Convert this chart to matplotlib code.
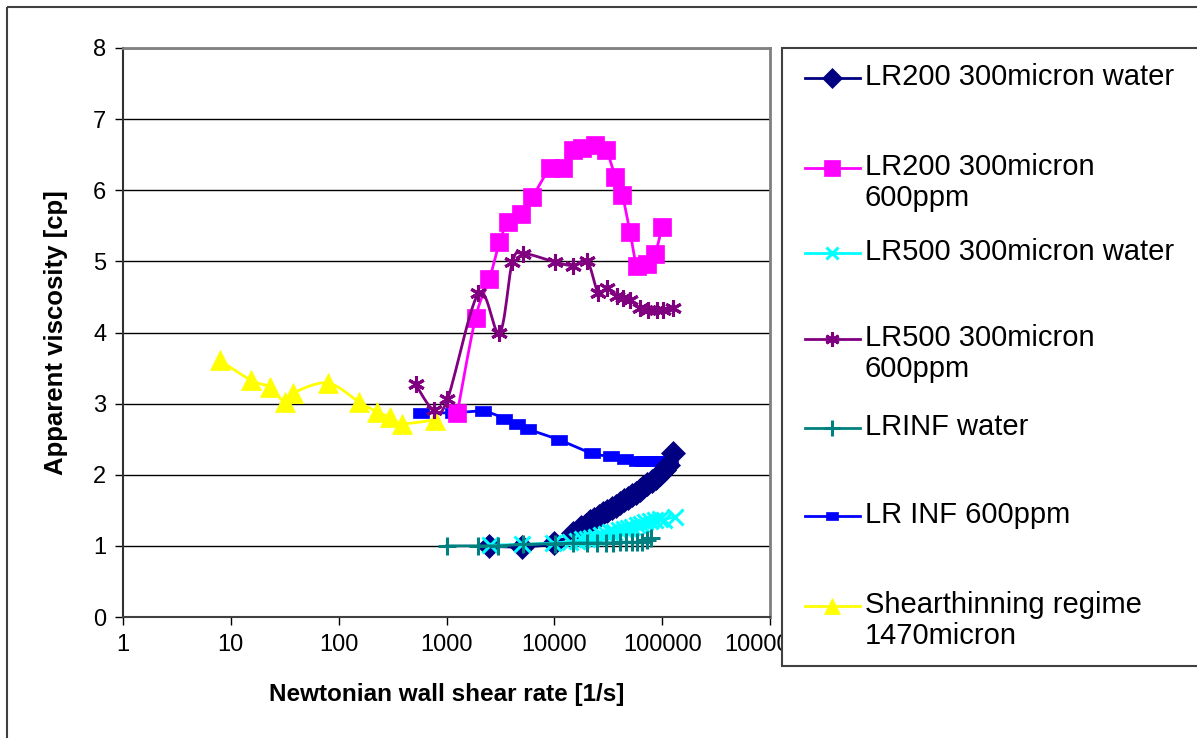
import matplotlib
matplotlib.use("Agg")
import matplotlib.pyplot as plt
import numpy as np
from matplotlib.path import Path
from matplotlib.patches import Rectangle
from matplotlib.lines import Line2D

plt.rcParams["font.family"] = ["Liberation Sans", "DejaVu Sans"]

# shear rate [1/s] and apparent viscosity [cp] per run
lr200_water_x = [2500, 5000, 10000, 15000, 17500, 19500, 21500, 23500, 26000, 28500, 31000,
                 34000, 37000, 40500, 44000, 48000, 52000, 57000, 62000, 67000, 73000, 80000,
                 87000, 95000, 104000, 113000, 126000]
lr200_water_y = [1.00, 0.99, 1.04, 1.18, 1.26, 1.30, 1.35, 1.38, 1.42, 1.46, 1.49,
                 1.53, 1.56, 1.60, 1.64, 1.68, 1.72, 1.75, 1.79, 1.83, 1.87, 1.91,
                 1.96, 2.01, 2.07, 2.14, 2.31]

lr200_ppm_x = [1260, 1860, 2500, 3100, 3750, 4950, 6250, 9200, 12100, 15000, 18200, 24000,
               30200, 36700, 42600, 50400, 58600, 72900, 86000, 100000]
lr200_ppm_y = [2.87, 4.21, 4.75, 5.27, 5.56, 5.67, 5.90, 6.31, 6.31, 6.57, 6.59, 6.63,
               6.56, 6.19, 5.94, 5.41, 4.94, 4.97, 5.11, 5.49]

lr500_water_x = [2550, 5030, 9800, 14000, 16300, 18000, 20000, 22000, 24500, 27000, 30000,
                 33000, 36000, 40000, 44000, 48000, 53000, 58000, 64000, 70000, 77000,
                 85000, 95000, 103000, 132000]
lr500_water_y = [1.01, 1.02, 1.04, 1.06, 1.07, 1.09, 1.10, 1.11, 1.13, 1.15, 1.17,
                 1.19, 1.20, 1.22, 1.24, 1.25, 1.27, 1.29, 1.31, 1.33, 1.35,
                 1.37, 1.38, 1.37, 1.41]

lr500_ppm_x = [517, 760, 1020, 1980, 3100, 4080, 5170, 10200, 15000, 20200, 25500, 30900,
               38300, 43500, 50400, 62500, 74300, 89900, 102000, 126000]
lr500_ppm_y = [3.27, 2.91, 3.06, 4.55, 3.99, 4.99, 5.11, 4.99, 4.94, 5.00, 4.56, 4.62,
               4.52, 4.49, 4.45, 4.34, 4.31, 4.31, 4.31, 4.35]

lrinf_water_x = [1000, 1950, 3000, 5100, 10200, 15000, 20000, 25000, 30000, 35000, 41000,
                 46000, 52000, 58000, 65000, 72000, 78000]
lrinf_water_y = [1.00, 1.00, 1.00, 1.02, 1.03, 1.04, 1.04, 1.04, 1.04, 1.04, 1.05,
                 1.05, 1.05, 1.05, 1.06, 1.08, 1.11]

lrinf_ppm_x = [575, 1140, 2200, 3450, 4550, 5750, 11100, 22400, 33700, 45400, 58000, 66000,
               74000, 82000, 92000, 103000, 118000]
lrinf_ppm_y = [2.87, 2.87, 2.89, 2.79, 2.72, 2.64, 2.49, 2.30, 2.26, 2.22, 2.19, 2.19,
               2.19, 2.19, 2.19, 2.19, 2.19]

thinning_x = [7.9, 15.3, 23, 31.6, 38, 79, 156, 229, 302, 390, 776]
thinning_y = [3.61, 3.33, 3.23, 3.02, 3.15, 3.29, 3.02, 2.88, 2.81, 2.72, 2.77]

x_ticks = [1, 10, 100, 1000, 10000, 100000, 1000000]
x_tick_labels = ["1", "10", "100", "1000", "10000", "100000", "1000000"]
y_ticks = [0, 1, 2, 3, 4, 5, 6, 7, 8]


def smooth(x, y, n=14):
    """Catmull-Rom curve through the points, built in log-x space."""
    pts = np.column_stack([np.log10(x), y])
    pts = np.vstack([pts[0], pts, pts[-1]])
    t = np.linspace(0, 1, n, endpoint=False)[:, None]
    out = []
    for i in range(1, len(pts) - 2):
        p0, p1, p2, p3 = pts[i - 1], pts[i], pts[i + 1], pts[i + 2]
        out.append(0.5 * (2 * p1 + (p2 - p0) * t + (2 * p0 - 5 * p1 + 4 * p2 - p3) * t ** 2
                          + (3 * p1 - p0 - 3 * p2 + p3) * t ** 3))
    out.append(pts[-2][None, :])
    out = np.vstack(out)
    return 10 ** out[:, 0], out[:, 1]


# flat rectangle used by the LR INF 600ppm series
flat_box = Path([(-0.8, -0.5), (0.8, -0.5), (0.8, 0.5), (-0.8, 0.5), (-0.8, -0.5)],
                [Path.MOVETO, Path.LINETO, Path.LINETO, Path.LINETO, Path.CLOSEPOLY])

series = [
    ("LR200 300micron water", lr200_water_x, lr200_water_y, "#000080", "D", 12, 6, 2.5),
    ("LR200 300micron\n600ppm", lr200_ppm_x, lr200_ppm_y, "#FF00FF", "s", 13, 4, 2.0),
    ("LR500 300micron water", lr500_water_x, lr500_water_y, "#00FFFF", "x", 11, 7, 2.0),
    ("LR500 300micron\n600ppm", lr500_ppm_x, lr500_ppm_y, "#800080", (6, 2, 0), 12, 5, 2.0),
    ("LRINF water", lrinf_water_x, lrinf_water_y, "#008080", "+", 13, 8, 2.0),
    ("LR INF 600ppm", lrinf_ppm_x, lrinf_ppm_y, "#0000FF", flat_box, 11, 3, 2.0),
    ("Shearthinning regime\n1470micron", thinning_x, thinning_y, "#FFFF00", "^", 14, 2, 2.0),
]

fig = plt.figure(figsize=(11.97, 7.38), dpi=100)
W, H = 1197, 738
ax = fig.add_axes([123 / W, 1 - 617 / H, (770 - 123) / W, (617 - 48) / H])

for label, xs, ys, color, marker, ms, z, lw in series:
    sx, sy = smooth(xs, ys)
    ax.plot(sx, sy, color=color, lw=lw, zorder=z)
    mew = 2.2 if marker in ("x", "+", (6, 2, 0)) else 0.5
    ax.plot(xs, ys, ls="none", marker=marker, ms=ms, color=color, mec=color, mew=mew, zorder=z)

ax.set_xscale("log")
ax.set_xlim(1, 1e6)
ax.set_ylim(0, 8)
ax.set_xticks(x_ticks)
ax.set_xticklabels(x_tick_labels)
ax.xaxis.set_minor_locator(matplotlib.ticker.NullLocator())
ax.set_yticks(y_ticks)
ax.yaxis.grid(True, color="black", lw=1)
ax.set_axisbelow(True)
ax.tick_params(axis="both", direction="out", length=6, width=1, labelsize=17, pad=6)
ax.spines["left"].set_color("#303030")
ax.spines["left"].set_linewidth(1.5)
ax.spines["bottom"].set_color("#404040")
ax.spines["bottom"].set_linewidth(1.5)
ax.spines["top"].set_color("#808080")
ax.spines["top"].set_linewidth(2)
ax.spines["right"].set_color("#808080")
ax.spines["right"].set_linewidth(2)

ax.set_xlabel("Newtonian wall shear rate [1/s]", fontsize=17.5, fontweight="bold", labelpad=20)
ax.set_ylabel("Apparent viscosity [cp]", fontsize=18.5, fontweight="bold", labelpad=18)

# overlay in pixel units for the outer frame and the legend panel
lax = fig.add_axes([0, 0, 1, 1], zorder=-1)
lax.set_xlim(0, W)
lax.set_ylim(H, 0)
lax.axis("off")
lax.add_patch(Rectangle((7, 7), 1210, 760, fill=False, ec="#404040", lw=1.5))

leg = fig.add_axes([0, 0, 1, 1])
leg.set_xlim(0, W)
leg.set_ylim(H, 0)
leg.axis("off")
leg.patch.set_alpha(0)
leg.add_patch(Rectangle((782, 48), 430, 618, fc="white", ec="#404040", lw=1.5))

entry_rows = [78, 168, 253, 339, 428, 516, 606]
for (label, xs, ys, color, marker, ms, z, lw), yrow in zip(series, entry_rows):
    leg.add_line(Line2D([805, 860], [yrow, yrow], color=color, lw=2))
    mew = 2.2 if marker in ("x", "+", (6, 2, 0)) else 0.5
    leg.add_line(Line2D([832], [yrow], ls="none", marker=marker, ms=ms * 0.85,
                        color=color, mec=color, mew=mew))
    leg.text(865, yrow - 15, label, fontsize=21, va="top", ha="left", linespacing=1.15)

fig.savefig("out.png", dpi=100)
